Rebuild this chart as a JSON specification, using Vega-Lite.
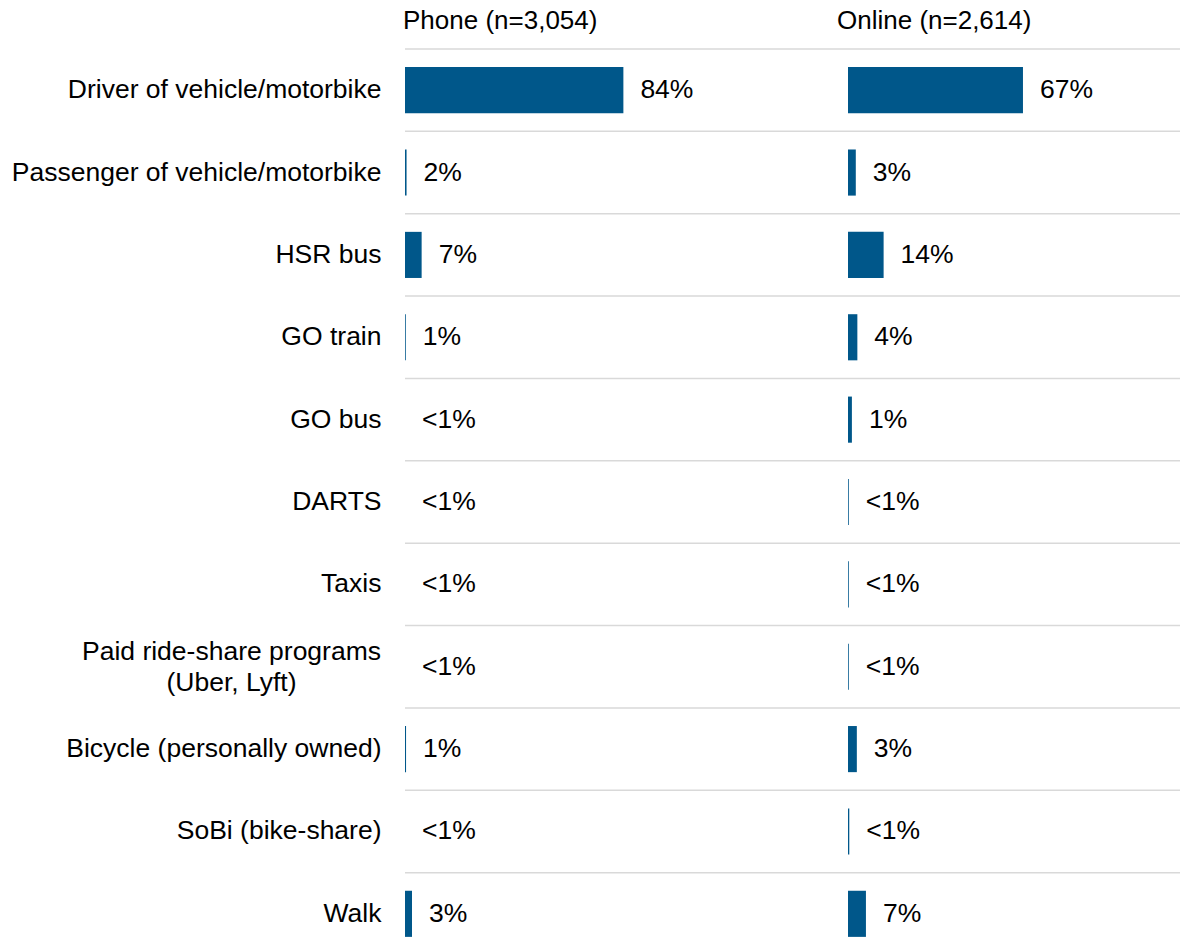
{
  "$schema": "https://vega.github.io/schema/vega-lite/v6.json",
  "padding": {"left": 11, "top": 8, "right": 0, "bottom": 0},
  "background": "white",
  "config": {
    "view": {"stroke": null},
    "font": "Liberation Sans",
    "title": {"font": "Liberation Sans", "fontSize": 26, "fontWeight": "normal", "color": "#000000", "anchor": "start", "frame": "group", "offset": 14}
  },
  "datasets": {
    "rows": [
      {"category": "Driver of vehicle/motorbike", "mode": "Phone", "value": 84, "label": "84%"},
      {"category": "Passenger of vehicle/motorbike", "mode": "Phone", "value": 0.6, "label": "2%"},
      {"category": "HSR bus", "mode": "Phone", "value": 6.4, "label": "7%"},
      {"category": "GO train", "mode": "Phone", "value": 0.3, "label": "1%"},
      {"category": "GO bus", "mode": "Phone", "value": 0, "label": "<1%"},
      {"category": "DARTS", "mode": "Phone", "value": 0, "label": "<1%"},
      {"category": "Taxis", "mode": "Phone", "value": 0, "label": "<1%"},
      {"category": "Paid ride-share programs (Uber, Lyft)", "mode": "Phone", "value": 0, "label": "<1%"},
      {"category": "Bicycle (personally owned)", "mode": "Phone", "value": 0.4, "label": "1%"},
      {"category": "SoBi (bike-share)", "mode": "Phone", "value": 0, "label": "<1%"},
      {"category": "Walk", "mode": "Phone", "value": 2.7, "label": "3%"},
      {"category": "Driver of vehicle/motorbike", "mode": "Online", "value": 67.3, "label": "67%"},
      {"category": "Passenger of vehicle/motorbike", "mode": "Online", "value": 3.0, "label": "3%"},
      {"category": "HSR bus", "mode": "Online", "value": 13.7, "label": "14%"},
      {"category": "GO train", "mode": "Online", "value": 3.6, "label": "4%"},
      {"category": "GO bus", "mode": "Online", "value": 1.5, "label": "1%"},
      {"category": "DARTS", "mode": "Online", "value": 0.3, "label": "<1%"},
      {"category": "Taxis", "mode": "Online", "value": 0.3, "label": "<1%"},
      {"category": "Paid ride-share programs (Uber, Lyft)", "mode": "Online", "value": 0.3, "label": "<1%"},
      {"category": "Bicycle (personally owned)", "mode": "Online", "value": 3.4, "label": "3%"},
      {"category": "SoBi (bike-share)", "mode": "Online", "value": 0.5, "label": "<1%"},
      {"category": "Walk", "mode": "Online", "value": 6.9, "label": "7%"}
    ]
  },
  "spacing": 0,
  "bounds": "flush",
  "hconcat": [
    {
      "title": {"text": "Phone (n=3,054)", "dx": -2},
      "width": 443,
      "height": 906,
      "data": {"name": "rows"},
      "transform": [{"filter": "datum.mode == 'Phone'"}],
      "encoding": {
        "y": {
          "field": "category", "type": "nominal", "sort": null,
          "scale": {"paddingInner": 0, "paddingOuter": 0},
          "axis": {
            "title": null, "domain": false, "ticks": false, "grid": false,
            "labelFont": "Liberation Sans", "labelFontSize": 26.5, "labelColor": "#000000",
            "labelLimit": 500, "labelLineHeight": 31,
            "labelExpr": "datum.label == 'Paid ride-share programs (Uber, Lyft)' ? ['Paid ride-share programs', '(Uber, Lyft)'] : datum.label",
            "labelAlign": {"condition": {"test": "datum.value == 'Paid ride-share programs (Uber, Lyft)'", "value": "center"}, "value": "right"},
            "labelPadding": {"condition": {"test": "datum.value == 'Paid ride-share programs (Uber, Lyft)'", "value": 174}, "value": 24},
            "labelOffset": {"condition": {"test": "datum.value == 'Paid ride-share programs (Uber, Lyft)'", "value": -15}, "value": 0}
          }
        }
      },
      "layer": [
        {
          "mark": {"type": "rule", "color": "#d9d9d9", "strokeWidth": 1.5},
          "encoding": {"y": {"field": "category", "type": "nominal", "sort": null, "bandPosition": 0}}
        },
        {
          "mark": {"type": "bar", "color": "#00578A", "height": {"band": 0.56}},
          "encoding": {
            "x": {"field": "value", "type": "quantitative", "scale": {"domain": [0, 170.4], "nice": false, "zero": true}, "axis": null}
          }
        },
        {
          "mark": {"type": "text", "align": "left", "baseline": "middle", "dx": 17, "fontSize": 26.5, "font": "Liberation Sans", "color": "#000000"},
          "encoding": {
            "x": {"field": "value", "type": "quantitative"},
            "text": {"field": "label", "type": "nominal"}
          }
        }
      ]
    },
    {
      "title": {"text": "Online (n=2,614)", "dx": -11},
      "width": 332,
      "height": 906,
      "data": {"name": "rows"},
      "transform": [{"filter": "datum.mode == 'Online'"}],
      "encoding": {
        "y": {
          "field": "category", "type": "nominal", "sort": null,
          "scale": {"paddingInner": 0, "paddingOuter": 0},
          "axis": null
        }
      },
      "layer": [
        {
          "mark": {"type": "rule", "color": "#d9d9d9", "strokeWidth": 1.5},
          "encoding": {"y": {"field": "category", "type": "nominal", "sort": null, "bandPosition": 0}}
        },
        {
          "mark": {"type": "bar", "color": "#00578A", "height": {"band": 0.56}},
          "encoding": {
            "x": {"field": "value", "type": "quantitative", "scale": {"domain": [0, 127.7], "nice": false, "zero": true}, "axis": null}
          }
        },
        {
          "mark": {"type": "text", "align": "left", "baseline": "middle", "dx": 17, "fontSize": 26.5, "font": "Liberation Sans", "color": "#000000"},
          "encoding": {
            "x": {"field": "value", "type": "quantitative"},
            "text": {"field": "label", "type": "nominal"}
          }
        }
      ]
    }
  ]
}
